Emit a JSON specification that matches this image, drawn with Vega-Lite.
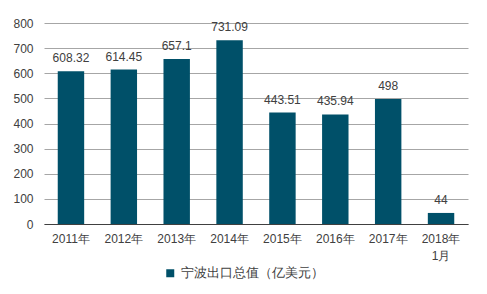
{
  "$schema": "https://vega.github.io/schema/vega-lite/v6.json",
  "width": 487,
  "height": 294,
  "autosize": {"type": "fit", "contains": "padding"},
  "padding": {"left": 12, "right": 19, "top": 17, "bottom": 33},
  "background": "white",
  "data": {
    "values": [
      {"year": "2011年", "value": 608.32, "label": "608.32", "series": "宁波出口总值（亿美元）"},
      {"year": "2012年", "value": 614.45, "label": "614.45", "series": "宁波出口总值（亿美元）"},
      {"year": "2013年", "value": 657.1, "label": "657.1", "series": "宁波出口总值（亿美元）"},
      {"year": "2014年", "value": 731.09, "label": "731.09", "series": "宁波出口总值（亿美元）"},
      {"year": "2015年", "value": 443.51, "label": "443.51", "series": "宁波出口总值（亿美元）"},
      {"year": "2016年", "value": 435.94, "label": "435.94", "series": "宁波出口总值（亿美元）"},
      {"year": "2017年", "value": 498, "label": "498", "series": "宁波出口总值（亿美元）"},
      {"year": "2018年1月", "value": 44, "label": "44", "series": "宁波出口总值（亿美元）"}
    ]
  },
  "encoding": {
    "x": {
      "field": "year",
      "type": "nominal",
      "sort": null,
      "scale": {"paddingInner": 0.5, "paddingOuter": 0.26},
      "axis": {
        "title": null,
        "labelAngle": 0,
        "ticks": false,
        "labelPadding": 9,
        "labelFont": "Liberation Sans",
        "labelFontSize": 12,
        "labelColor": "#404040",
        "domainColor": "#404040",
        "labelLineHeight": 17,
        "labelExpr": "datum.value == '2018年1月' ? ['2018年', '1月'] : datum.value"
      }
    },
    "y": {
      "field": "value",
      "type": "quantitative",
      "scale": {"domain": [0, 800]},
      "axis": {
        "title": null,
        "values": [0, 100, 200, 300, 400, 500, 600, 700, 800],
        "domain": false,
        "ticks": false,
        "labelPadding": 11,
        "labelFont": "Liberation Sans",
        "labelFontSize": 12,
        "labelColor": "#404040",
        "gridColor": "#a6a6a6",
        "gridWidth": 1
      }
    }
  },
  "layer": [
    {
      "mark": {"type": "bar", "color": "#005069"},
      "encoding": {
        "color": {
          "field": "series",
          "type": "nominal",
          "scale": {"range": ["#005069"]},
          "legend": {
            "title": null,
            "orient": "none",
            "legendX": 120,
            "legendY": 244,
            "direction": "horizontal",
            "symbolType": "square",
            "symbolSize": 64,
            "symbolStrokeWidth": 0,
            "labelFont": "Liberation Sans",
            "labelFontSize": 12.5,
            "labelColor": "#404040"
          }
        }
      }
    },
    {
      "mark": {"type": "text", "dy": -13, "font": "Liberation Sans", "fontSize": 12, "color": "#404040"},
      "encoding": {"text": {"field": "label"}}
    }
  ],
  "config": {
    "view": {"stroke": null}
  }
}
